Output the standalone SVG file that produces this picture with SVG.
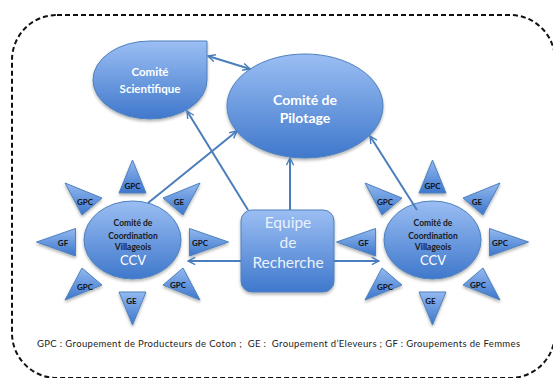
<svg xmlns="http://www.w3.org/2000/svg" width="553" height="378" viewBox="0 0 553 378">
<style>
.node{stroke:#4f81bd;stroke-width:1}
.lbl{font-family:Lato,"Liberation Sans",Arial,sans-serif;font-weight:bold;font-size:8px;fill:#111;text-anchor:middle}
.ctext{font-family:Lato,"Liberation Sans",Arial,sans-serif;font-weight:bold;font-size:8.5px;fill:#1a1a1a;text-anchor:middle}
.ccv{font-family:Lato,"Liberation Sans",Arial,sans-serif;font-size:13px;fill:#fff;text-anchor:middle}
.big{font-family:Lato,"Liberation Sans",Arial,sans-serif;font-weight:bold;fill:#fff;text-anchor:middle}
.eq{font-family:Lato,"Liberation Sans",Arial,sans-serif;font-size:15.5px;fill:#eaf1fc;text-anchor:middle}
.conn{stroke:#4a7ebb;stroke-width:2;fill:none}
</style>
<defs>
<linearGradient id="g" x1="0" y1="0" x2="0" y2="1">
<stop offset="0" stop-color="#9bbef3"/>
<stop offset="1" stop-color="#3f78cc"/>
</linearGradient>
<linearGradient id="gt" x1="0" y1="0" x2="0" y2="1">
<stop offset="0" stop-color="#93b9f0"/>
<stop offset="1" stop-color="#3c76cc"/>
</linearGradient>
<filter id="sh" x="-20%" y="-20%" width="140%" height="150%">
<feDropShadow dx="0" dy="2" stdDeviation="1.5" flood-color="#000" flood-opacity="0.3"/>
</filter>
<marker id="ah" viewBox="0 0 10 10" refX="9" refY="5" markerWidth="9" markerHeight="9" markerUnits="userSpaceOnUse" orient="auto-start-reverse">
<path d="M1,1 L9,5 L1,9" fill="none" stroke="#4a7ebb" stroke-width="1.6"/>
</marker>
</defs>

<rect x="12" y="15" width="543" height="363" rx="45" ry="45" fill="none" stroke="#111" stroke-width="2" stroke-dasharray="5,3"/>

<g id="star-left" transform="translate(132.5,242)" filter="url(#sh)">
<g fill="url(#gt)" class="node">
<polygon points="0,-82 -13.5,-49 13.5,-49"/>
<polygon points="0,83 -13.5,50 13.5,50"/>
<polygon points="96,0 57,-13.5 57,14"/>
<polygon points="-96,0 -57,-13.5 -57,14"/>
<polygon points="67.5,-59 30.5,-44 50.5,-27"/>
<polygon points="-67.5,-59 -30.5,-44 -50.5,-27"/>
<polygon points="67.5,58 30.5,43 50.5,26"/>
<polygon points="-67.5,58 -30.5,43 -50.5,26"/>
</g>
<ellipse cx="0" cy="-2" rx="48.5" ry="39" fill="url(#g)" class="node"/>
</g>
<g id="star-left-text">
<text class="lbl" x="132.5" y="189">GPC</text>
<text class="lbl" x="179" y="205">GE</text>
<text class="lbl" x="200" y="246">GPC</text>
<text class="lbl" x="178" y="288">GPC</text>
<text class="lbl" x="131.5" y="304">GE</text>
<text class="lbl" x="85" y="290">GPC</text>
<text class="lbl" x="63" y="246">GF</text>
<text class="lbl" x="85" y="205">GPC</text>
<text class="ctext" x="133" y="226">Comité de</text>
<text class="ctext" x="133" y="238.7">Coordination</text>
<text class="ctext" x="133" y="250.3">Villageois</text>
<text class="ccv" x="133" y="264.5">CCV</text>
</g>

<g id="star-right" transform="translate(432.5,242)" filter="url(#sh)">
<g fill="url(#gt)" class="node">
<polygon points="0,-82 -13.5,-49 13.5,-49"/>
<polygon points="0,83 -13.5,50 13.5,50"/>
<polygon points="96,0 57,-13.5 57,14"/>
<polygon points="-96,0 -57,-13.5 -57,14"/>
<polygon points="67.5,-59 30.5,-44 50.5,-27"/>
<polygon points="-67.5,-59 -30.5,-44 -50.5,-27"/>
<polygon points="67.5,58 30.5,43 50.5,26"/>
<polygon points="-67.5,58 -30.5,43 -50.5,26"/>
</g>
<ellipse cx="0" cy="-2" rx="48.5" ry="39" fill="url(#g)" class="node"/>
</g>
<g id="star-right-text">
<text class="lbl" x="432.5" y="189">GPC</text>
<text class="lbl" x="477" y="205">GE</text>
<text class="lbl" x="500" y="246">GPC</text>
<text class="lbl" x="478" y="288">GPC</text>
<text class="lbl" x="430.5" y="304">GE</text>
<text class="lbl" x="385" y="290">GPC</text>
<text class="lbl" x="363.5" y="246">GF</text>
<text class="lbl" x="385" y="205">GPC</text>
<text class="ctext" x="433" y="226">Comité de</text>
<text class="ctext" x="433" y="238.7">Coordination</text>
<text class="ctext" x="433" y="250.3">Villageois</text>
<text class="ccv" x="433" y="264.5">CCV</text>
</g>

<g id="scientifique">
<path d="M93,80 A57,39 0 0 1 150,41 L207,41 L207,80 A57,39 0 0 1 150,119 A57,39 0 0 1 93,80 Z" fill="url(#g)" class="node" filter="url(#sh)"/>
<text class="big" x="150" y="76" font-size="11.5">Comité</text>
<text class="big" x="150" y="93" font-size="11.5">Scientifique</text>
</g>

<g id="pilotage">
<ellipse cx="305" cy="106" rx="78" ry="52" fill="url(#g)" class="node" filter="url(#sh)"/>
<text class="big" x="305" y="105" font-size="14">Comité de</text>
<text class="big" x="305" y="123" font-size="14">Pilotage</text>
</g>

<g id="equipe">
<rect x="241" y="210" width="93" height="82" rx="11" ry="11" fill="url(#g)" class="node" filter="url(#sh)"/>
<text class="eq" x="288" y="228">Equipe</text>
<text class="eq" x="288" y="248">de</text>
<text class="eq" x="288" y="268">Recherche</text>
</g>

<g id="connectors">
<line class="conn" x1="208" y1="56" x2="250" y2="69" marker-start="url(#ah)" marker-end="url(#ah)"/>
<line class="conn" x1="148" y1="203" x2="237" y2="131" marker-end="url(#ah)"/>
<line class="conn" x1="290" y1="210" x2="290" y2="158" marker-end="url(#ah)"/>
<line class="conn" x1="248" y1="210" x2="187" y2="111" marker-end="url(#ah)"/>
<line class="conn" x1="417" y1="210" x2="370" y2="136" marker-end="url(#ah)"/>
<line class="conn" x1="241" y1="261" x2="188" y2="261" marker-end="url(#ah)"/>
<line class="conn" x1="334" y1="261" x2="379" y2="261" marker-end="url(#ah)"/>
</g>

<text id="legend" x="37" y="347" textLength="483" lengthAdjust="spacing" style="white-space:pre" font-family="Lato,'Liberation Sans',Arial,sans-serif" font-size="9.5" fill="#222">GPC : Groupement de Producteurs de Coton ;  GE :  Groupement d’Eleveurs ; GF : Groupements de Femmes</text>
</svg>
